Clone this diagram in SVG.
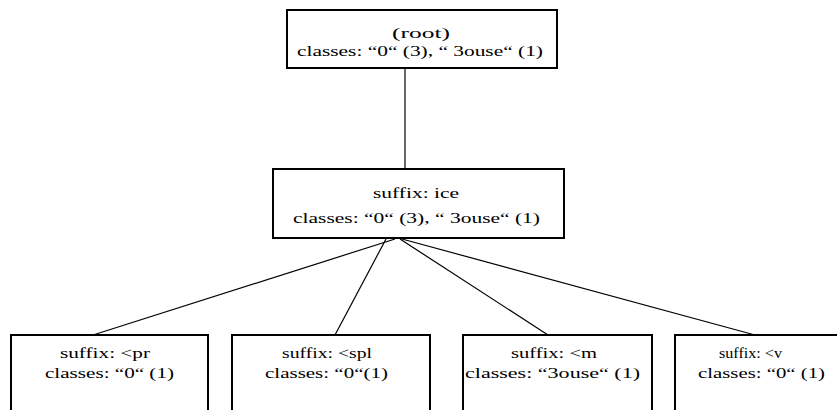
<svg xmlns="http://www.w3.org/2000/svg" width="837" height="410" viewBox="0 0 837 410">
<style>
.box{fill:#fff;stroke:#000;stroke-width:2}
.t{font-family:"Liberation Serif","Times New Roman",serif;font-size:15px;fill:#000}
.c{stroke:#000;stroke-width:1.2;fill:none}
</style>
<rect width="837" height="410" fill="#fff"/>
<g id="connectors">
<line class="c" x1="405" y1="68" x2="405" y2="168"/>
<line class="c" x1="395" y1="239" x2="93" y2="335"/>
<line class="c" x1="386" y1="239" x2="335" y2="335"/>
<line class="c" x1="400" y1="239" x2="548" y2="335"/>
<line class="c" x1="402" y1="239" x2="755" y2="335"/>
</g>
<g id="root">
<rect class="box" x="287" y="10" width="270" height="58"/>
<text class="t" x="392" y="38" textLength="58" lengthAdjust="spacingAndGlyphs">(root)</text>
<text class="t" x="297" y="56" textLength="246" lengthAdjust="spacingAndGlyphs">classes: “0“ (3), “ 3ouse“ (1)</text>
</g>
<g id="ice">
<rect class="box" x="273" y="169" width="291" height="69"/>
<text class="t" x="373" y="198" textLength="86" lengthAdjust="spacingAndGlyphs">suffix: ice</text>
<text class="t" x="293" y="223" textLength="247" lengthAdjust="spacingAndGlyphs">classes: “0“ (3), “ 3ouse“ (1)</text>
</g>
<g id="pr">
<rect class="box" x="11" y="335" width="197" height="90"/>
<text class="t" x="60" y="358" textLength="90" lengthAdjust="spacingAndGlyphs">suffix: &lt;pr</text>
<text class="t" x="45" y="378" textLength="129" lengthAdjust="spacingAndGlyphs">classes: “0“ (1)</text>
</g>
<g id="spl">
<rect class="box" x="232" y="335" width="198" height="90"/>
<text class="t" x="282" y="358" textLength="90" lengthAdjust="spacingAndGlyphs">suffix: &lt;spl</text>
<text class="t" x="265" y="378" textLength="123" lengthAdjust="spacingAndGlyphs">classes: “0“(1)</text>
</g>
<g id="m">
<rect class="box" x="463" y="335" width="189" height="90"/>
<text class="t" x="511" y="358" textLength="86" lengthAdjust="spacingAndGlyphs">suffix: &lt;m</text>
<text class="t" x="465" y="378" textLength="175" lengthAdjust="spacingAndGlyphs">classes: “3ouse“ (1)</text>
</g>
<g id="v">
<rect class="box" x="675" y="335" width="200" height="90"/>
<text class="t" x="719" y="358" textLength="63" lengthAdjust="spacingAndGlyphs">suffix: &lt;v</text>
<text class="t" x="698" y="378" textLength="127" lengthAdjust="spacingAndGlyphs">classes: “0“ (1)</text>
</g>
</svg>
